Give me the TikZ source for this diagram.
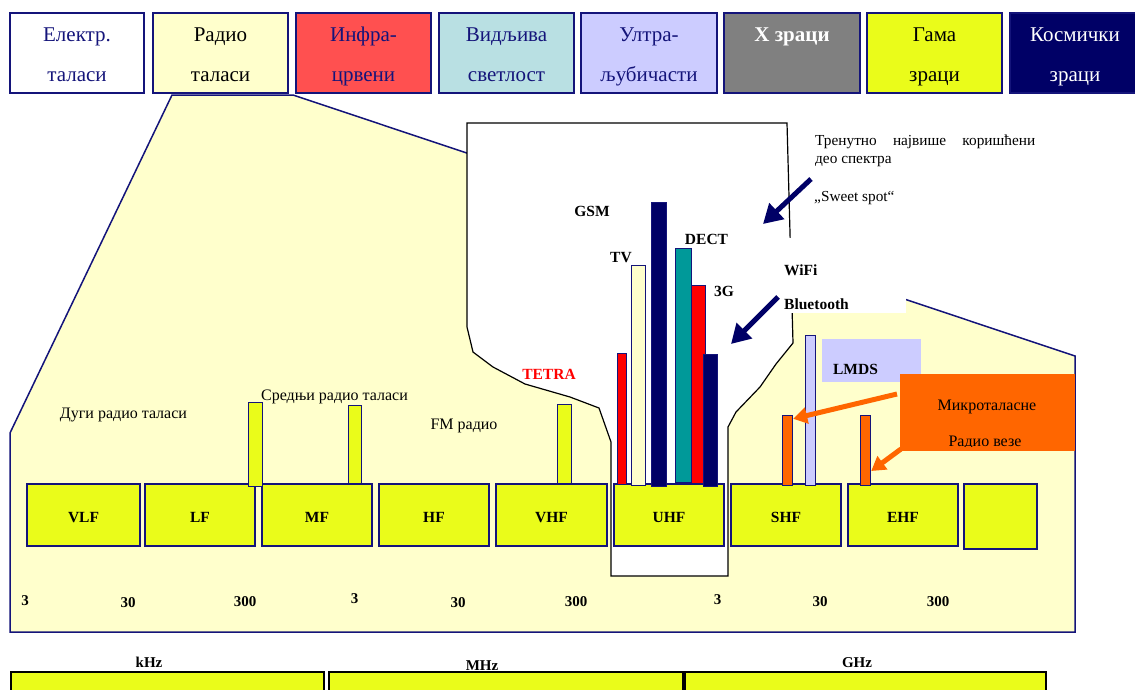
\documentclass[tikz,border=0pt]{standalone}
\usepackage{fontspec}
\setmainfont{Liberation Serif}
\usetikzlibrary{arrows.meta,calc}

\definecolor{darknavy}{HTML}{000066}
\definecolor{framenavy}{HTML}{14147A}
\definecolor{paleyellow}{HTML}{FFFFCC}
\definecolor{bandyellow}{HTML}{EAFC1A}
\definecolor{irred}{HTML}{FF5050}
\definecolor{viscyan}{HTML}{B9E0E3}
\definecolor{uvlilac}{HTML}{CCCCFF}
\definecolor{xgray}{HTML}{808080}
\definecolor{dectteal}{HTML}{009999}
\definecolor{mworange}{HTML}{FF6600}

\tikzset{
    topbox/.style={draw=framenavy, line width=1.5pt, minimum width=135, minimum height=78,
        inner sep=0pt, align=center, font=\fontsize{21}{40}\selectfont},
    band/.style={draw=framenavy, fill=bandyellow, line width=1.5pt, minimum width=110,
        minimum height=62, inner sep=0pt, text height=14pt, text depth=0pt,
        font=\bfseries\fontsize{15.5}{15.5}\selectfont},
    bar/.style={draw=framenavy, line width=1.2pt, inner sep=0pt, anchor=south west},
    tag/.style={font=\bfseries\fontsize{15.5}{15.5}\selectfont, inner sep=0pt},
    note/.style={font=\fontsize{16}{16}\selectfont, inner sep=0pt},
    num/.style={font=\bfseries\fontsize{15}{15}\selectfont, inner sep=0pt},
    unitbox/.style={draw=black, line width=2pt, fill=bandyellow, anchor=north west,
        minimum height=40, inner sep=0pt},
    spotarrow/.style={draw=darknavy, line width=5pt, -{Triangle[length=19pt,width=21pt]}},
    mwarrow/.style={draw=mworange, line width=5pt, -{Triangle[length=14pt,width=16pt]}},
}

\begin{document}
\begin{tikzpicture}[x=1pt,y=-1pt]
    \useasboundingbox (0,0) rectangle (1135,689);

    % Whole spectrum on top
    \node [topbox, minimum width=134, text=framenavy] (elm) at (77,53) {Електр.\strut\\таласи\strut};
    \node [topbox, fill=paleyellow] (radio) at (220.5,53) {Радио\strut\\таласи\strut};
    \node [topbox, fill=irred, text=framenavy] (ir) at (363.5,53) {Инфра-\strut\\црвени\strut};
    \node [topbox, fill=viscyan, text=framenavy] (vis) at (506.5,53) {Видљива\strut\\светлост\strut};
    \node [topbox, minimum width=136, fill=uvlilac, text=framenavy] (uv) at (649,53) {Ултра-\strut\\љубичасти\strut};
    \node [topbox, minimum width=136, fill=xgray, text=white] (xray) at (792,53) {\textbf{X зраци}\strut\\\strut};
    \node [topbox, fill=bandyellow] (gamma) at (934.5,53) {Гама\strut\\зраци\strut};
    \node [topbox, minimum width=130, fill=darknavy, text=white] (cosmic) at (1075,53) {Космички\strut\\зраци\strut};

    % Radio part, zoomed
    \draw [framenavy, line width=1.5pt, fill=paleyellow] (10,632) -- (10,433) -- (172,95) -- (293,95)
        -- (1075,356) -- (1075,632) -- cycle;
    \draw [black, line width=1.2pt, fill=white] (467,123) -- (787,123) -- (793,343) -- (776,364)
        -- (760,387) -- (736,412) -- (728,427) -- (728,576) -- (611,576) -- (611,442) -- (599,408)
        -- (570,397) -- (525,384) -- (493,367) -- (473,352) -- (467,327) -- cycle;
    \fill [white] (780,238) rectangle (906,313);

    % Bands
    \node [band, minimum width=113] (vlf) at (83.5,515) {VLF};
    \node [band] (lf) at (200,515) {LF};
    \node [band] (mf) at (317,515) {MF};
    \node [band] (hf) at (434,515) {HF};
    \node [band, minimum width=111] (vhf) at (551.5,515) {VHF};
    \node [band] (uhf) at (669,515) {UHF};
    \node [band] (shf) at (786,515) {SHF};
    \node [band] (ehf) at (903,515) {EHF};
    \node [band, minimum width=73, minimum height=65] (thf) at (1000.5,516.5) {};

    % Services
    \node [bar, fill=bandyellow, minimum width=14, minimum height=84] (lwbar) at (248,487) {};
    \node [bar, fill=bandyellow, minimum width=13, minimum height=78] (mwbar) at (348,484) {};
    \node [bar, fill=bandyellow, minimum width=14, minimum height=79] (fmbar) at (557,484) {};
    \node [bar, fill=red, minimum width=9, minimum height=131] (tetrabar) at (617,485) {};
    \node [bar, fill=paleyellow, minimum width=14, minimum height=220] (tvbar) at (631,486) {};
    \node [bar, fill=darknavy, minimum width=15, minimum height=284] (gsmbar) at (651,487) {};
    \node [bar, fill=dectteal, minimum width=16, minimum height=234] (dectbar) at (675,483) {};
    \node [bar, fill=red, minimum width=14, minimum height=198] (umtsbar) at (691,484) {};
    \node [bar, fill=darknavy, minimum width=14, minimum height=132] (gsmhbar) at (703,487) {};
    \node [bar, fill=uvlilac, minimum width=10, minimum height=150] (lmdsbar) at (805,486) {};
    \node [bar, fill=mworange, minimum width=10, minimum height=70] (mwlink1) at (782,486) {};
    \node [bar, fill=mworange, minimum width=10, minimum height=70] (mwlink2) at (860,486) {};

    \node [fill=uvlilac, minimum width=99, minimum height=43, inner sep=0pt, anchor=north west] (lmds) at (822,339) {};
    \node [fill=mworange, minimum width=175, minimum height=77, inner sep=0pt, anchor=north west] (mwbox) at (900,374) {};

    % Labels
    \node [note] (lwlbl) at (123.5,415) {Дуги радио таласи};
    \node [note] (mwlbl) at (334.5,397) {Средњи радио таласи};
    \node [note] (fmlbl) at (464,426) {FM радио};
    \node [tag, text=red] (tetralbl) at (549,374) {TETRA};
    \node [tag] (gsmlbl) at (592,211) {GSM};
    \node [tag] (tvlbl) at (621,258) {TV};
    \node [tag] (dectlbl) at (706.5,239) {DECT};
    \node [tag] (umtslbl) at (724,291) {3G};
    \node [tag, anchor=west] (wifilbl) at (784,270) {WiFi};
    \node [tag, anchor=west] (btlbl) at (784,304) {Bluetooth};
    \node [tag] (lmdslbl) at (855.5,369) {LMDS};
    \node [note] (mwtext) at (987,407) {Микроталасне};
    \begin{scope}
        \clip (900,374) rectangle (1075,446);
        \node [note] (linktext) at (985,443) {Радио везе};
    \end{scope}
    \node [note, anchor=north west, text width=220, align=justify, font=\fontsize{15.3}{18}\selectfont]
        (usedlbl) at (815,135) {Тренутно највише коришћени\linebreak део спектра};
    \node [note, anchor=west, font=\fontsize{15.3}{18}\selectfont] (sweetlbl) at (814,198) {„Sweet spot“};

    % Arrows
    \coordinate (spotfrom) at (811,179);
    \coordinate (spotto) at (763,224);
    \coordinate (wififrom) at (778,297);
    \coordinate (wifito) at (731,344);
    \draw [spotarrow] (spotfrom) -- (spotto);
    \draw [spotarrow] (wififrom) -- (wifito);
    \coordinate (mwfrom1) at (897,394);
    \coordinate (mwfrom2) at (901,449);
    \draw [mwarrow] (mwfrom1) -- ($(mwlink1.north east)+(0,4)$);
    \draw [mwarrow] (mwfrom2) -- ($(mwlink2.south east)+(0,-15)$);

    % Scale
    \node [num] (k3) at (25,601) {3};
    \node [num] (k30) at (128,603) {30};
    \node [num] (k300) at (245,602) {300};
    \node [num] (m3) at (354.5,599) {3};
    \node [num] (m30) at (458,603) {30};
    \node [num] (m300) at (576,602) {300};
    \node [num] (g3) at (717.5,600) {3};
    \node [num] (g30) at (820,602) {30};
    \node [num] (g300) at (938,602) {300};

    % Units
    \node [unitbox, minimum width=313] (khz) at (10,671) {};
    \node [unitbox, minimum width=354] (mhz) at (328,671) {};
    \node [unitbox, minimum width=361] (ghz) at (684,671) {};
    \node [num] (khzlbl) at (149,662) {kHz};
    \node [num] (mhzlbl) at (482,666) {MHz};
    \node [num] (ghzlbl) at (857,663) {GHz};
\end{tikzpicture}
\end{document}
